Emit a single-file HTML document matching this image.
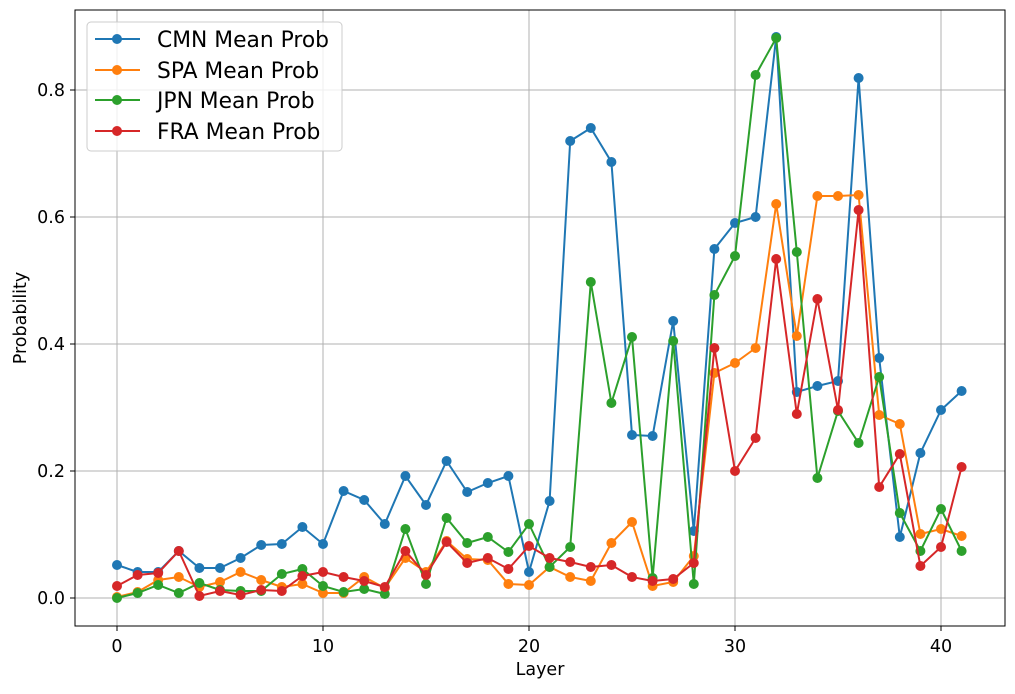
<!DOCTYPE html>
<html><head><meta charset="utf-8"><style>
body{margin:0;background:#fff;}
svg text{font-family:"DejaVu Sans","Liberation Sans",sans-serif;fill:#000;}
</style></head><body>
<svg id="s" width="1015" height="689" xmlns="http://www.w3.org/2000/svg">
<rect width="1015" height="689" fill="#fff"/>
<g id="grid" stroke="#b0b0b0" stroke-width="1"></g>
<g id="data"></g>
<rect x="75" y="10" width="930" height="616" fill="none" stroke="#000" stroke-width="1"/>
<g id="ticks" font-size="17.5"></g>
<text x="540" y="675" font-size="17.5" text-anchor="middle">Layer</text>
<text transform="translate(26,318) rotate(-90)" font-size="17.5" text-anchor="middle">Probability</text>
<rect x="87" y="22" width="255" height="129" rx="4" fill="#fff" fill-opacity="0.8" stroke="#ccc"/>
<g font-size="21.8">
<line x1="95" y1="39" x2="140" y2="39" stroke="#1f77b4" stroke-width="2"/><circle cx="117" cy="39" r="5" fill="#1f77b4"/><text x="157" y="47">CMN Mean Prob</text>
<line x1="95" y1="70" x2="140" y2="70" stroke="#ff7f0e" stroke-width="2"/><circle cx="117" cy="70" r="5" fill="#ff7f0e"/><text x="157" y="78">SPA Mean Prob</text>
<line x1="95" y1="100" x2="140" y2="100" stroke="#2ca02c" stroke-width="2"/><circle cx="117" cy="100" r="5" fill="#2ca02c"/><text x="157" y="108">JPN Mean Prob</text>
<line x1="95" y1="131" x2="140" y2="131" stroke="#d62728" stroke-width="2"/><circle cx="117" cy="131" r="5" fill="#d62728"/><text x="157" y="139">FRA Mean Prob</text>
</g>
</svg>
<script>
var ns="http://www.w3.org/2000/svg";
function el(p,t,a,txt){var e=document.createElementNS(ns,t);for(var k in a)e.setAttribute(k,a[k]);if(txt!=null)e.textContent=txt;document.getElementById(p).appendChild(e);}
function X(i){return 117+20.6*i;}
for(var i=0;i<=40;i+=10){el("grid","line",{x1:X(i),x2:X(i),y1:10,y2:626});el("ticks","line",{x1:X(i),x2:X(i),y1:626,y2:631,stroke:"#000"});el("ticks","text",{x:X(i),y:652,"text-anchor":"middle"},String(i));}
for(var j=0;j<=4;j++){var y=598-127*j;el("grid","line",{x1:75,x2:1005,y1:y,y2:y});el("ticks","line",{x1:70,x2:75,y1:y,y2:y,stroke:"#000"});el("ticks","text",{x:65,y:y+6,"text-anchor":"end"},(0.2*j).toFixed(1));}
var S=[
["#1f77b4",[565,572,572,551,568,568,558,545,544,527,544,491,500,524,476,505,461,492,483,476,572,501,141,128,162,435,436,321,531,249,223,217,37,392,386,381,78,358,537,453,410,391]],
["#ff7f0e",[597,592,580,577,587,582,572,580,587,584,593,593,577,588,558,572,541,559,560,584,585,567,577,581,543,522,586,582,556,373,363,348,204,336,196,196,195,415,424,534,529,536]],
["#2ca02c",[598,593,585,593,583,590,591,591,574,569,586,592,589,594,529,584,518,543,537,552,524,567,547,282,403,337,578,341,584,295,256,75,38,252,478,411,443,377,513,551,509,551]],
["#d62728",[586,575,573,551,596,591,595,590,591,576,572,577,581,587,551,575,542,563,558,569,546,558,562,567,565,577,581,579,563,348,471,438,259,414,299,410,210,487,454,566,547,467]]];
S.forEach(function(s){var pts=s[1].map(function(v,i){return X(i)+","+v;}).join(" ");el("data","polyline",{points:pts,fill:"none",stroke:s[0],"stroke-width":2});s[1].forEach(function(v,i){el("data","circle",{cx:X(i),cy:v,r:5,fill:s[0]});});});
</script>
</body></html>
